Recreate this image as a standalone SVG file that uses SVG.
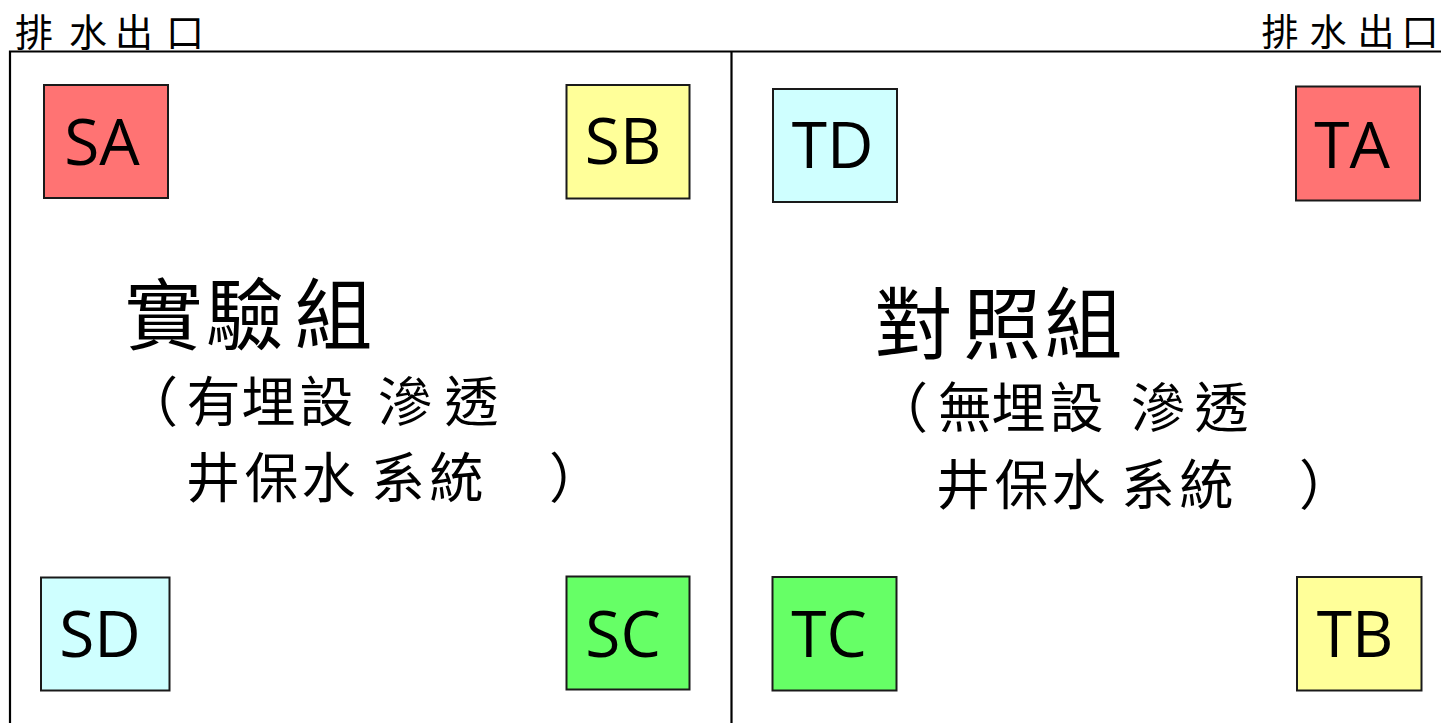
<svg xmlns="http://www.w3.org/2000/svg" width="1441" height="723" viewBox="0 0 1441 723">
<style>
.frame{stroke:#000;stroke-width:2.2;fill:none}
.box{stroke:#1a1a1a;stroke-width:2}
.lbl{font-family:"Open Sans","Noto Sans",sans-serif;font-size:64px;fill:#000;text-anchor:middle}
.zh{font-family:"Noto Sans CJK TC","Noto Sans CJK SC",sans-serif;fill:#000;text-anchor:middle}
.red{fill:#FF7373}.yel{fill:#FFFF99}.cyan{fill:#CFFFFF}.grn{fill:#66FF66}
</style>
<rect width="1441" height="723" fill="#fff"/>
<g id="frame">
<path class="frame" d="M10,723 V51.5 H1441 M731.5,51.5 V723"/>
</g>
<g id="outlets">
<text class="zh" font-size="38" x="34 88 134 185" y="46">排水出口</text>
<text class="zh" font-size="37" x="1280 1328 1376 1420" y="46">排水出口</text>
</g>
<g id="SA"><rect class="box red" x="44" y="85" width="124" height="113"/><text class="lbl" x="102" y="165">SA</text></g>
<g id="SB"><rect class="box yel" x="566.5" y="85" width="123" height="113.5"/><text class="lbl" x="623" y="164">SB</text></g>
<g id="TD"><rect class="box cyan" x="773" y="89" width="124" height="113"/><text class="lbl" x="832.5" y="168">TD</text></g>
<g id="TA"><rect class="box red" x="1296" y="86.5" width="124" height="114"/><text class="lbl" x="1352" y="168">TA</text></g>
<g id="SD"><rect class="box cyan" x="41" y="577.5" width="128.5" height="113"/><text class="lbl" x="100" y="657">SD</text></g>
<g id="SC"><rect class="box grn" x="566.5" y="576.5" width="123" height="113"/><text class="lbl" x="623" y="657">SC</text></g>
<g id="TC"><rect class="box grn" x="772.5" y="577" width="124" height="113.5"/><text class="lbl" x="829" y="657">TC</text></g>
<g id="TB"><rect class="box yel" x="1297" y="577" width="124.5" height="113.5"/><text class="lbl" x="1355" y="657">TB</text></g>
<g id="experimental">
<text class="zh" font-size="78" x="163.5 245 333.5" y="344">實驗組</text>
<text class="zh" font-size="54" x="151 213.5 268.5 326.5 405 471.5" y="422">（有埋設滲透</text>
<text class="zh" font-size="54" x="213 271.5 328.5 398 456.5 576" y="498">井保水系統）</text>
</g>
<g id="control">
<text class="zh" font-size="78" x="913.5 1002 1083.5" y="353">對照組</text>
<text class="zh" font-size="54" x="901 965 1018.5 1076.5 1158 1221.5" y="428">（無埋設滲透</text>
<text class="zh" font-size="54" x="963 1021.5 1078.5 1148 1206.5 1326" y="505">井保水系統）</text>
</g>
</svg>
